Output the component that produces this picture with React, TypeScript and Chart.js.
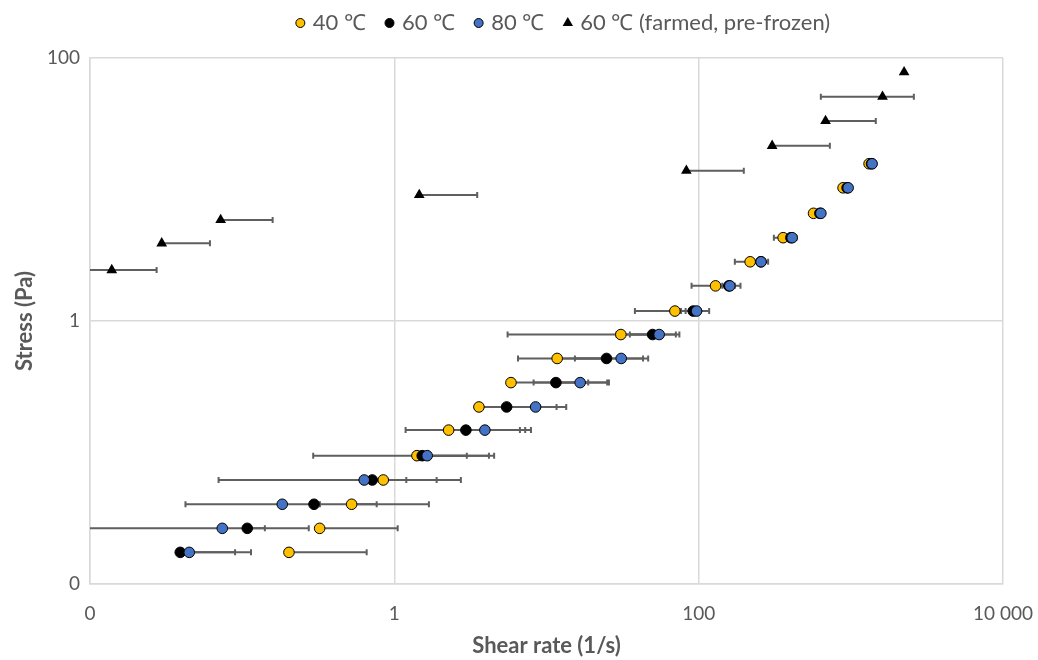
import React, { useEffect, useRef } from "react";
import { Chart, registerables } from "chart.js";

Chart.register(...registerables);

// ---------- data ----------
const seriesLabels = ["40 ℃", "60 ℃", "80 ℃", "60 ℃ (farmed, pre-frozen)"];

// stress levels (Pa) shared by the three temperature series
const stressLevels = [
  0.0174, 0.0265, 0.0404, 0.0618, 0.0946, 0.148, 0.222, 0.34, 0.519, 0.789,
  1.19, 1.85, 2.82, 4.3, 6.59, 10.3, 15.7,
];

// shear rate (1/s)
const rate40 = [
  0.203, 0.323, 0.524, 0.846, 1.408, 2.274, 3.597, 5.84, 11.75, 30.8, 69.8,
  129.1, 217.9, 359, 568.6, 889, 1318,
];
const rate60 = [
  0.0392, 0.108, 0.2966, 0.716, 1.525, 2.953, 5.47, 11.53, 24.8, 49.8, 92.1,
  157.9, 256.4, 403.6, 625.6, 945, 1368,
];
const rate80 = [
  0.0449, 0.074, 0.1834, 0.634, 1.644, 3.936, 8.48, 16.64, 30.97, 55.0, 96.9,
  160.3, 257, 411.6, 635.5, 960, 1380,
];

// shear-rate standard deviations (1/s)
const err40 = [
  0.455, 0.729, 1.163, 1.89, 3.12, 5.63, 4.5, 12.96, 12.5, 25.25, 31.7, 39.3,
  45, 47, 25, 40, 50,
];
const err60 = [
  0.0506, 0.166, 0.469, 1.181, 2.66, 4.29, 6.17, 14.2, 18.3, 21, 10, 15, 15,
  20, 25, 40, 50,
];
const err80 = [
  0.0694, 0.067, 0.141, 0.564, 1.351, 2.75, 5.0, 8.41, 15.6, 19.7, 20.3, 28,
  29, 28, 20, 30, 40,
];

// farmed, pre-frozen sample at 60 ℃
const stressFarmed = [2.44, 3.9, 5.86, 9.08, 13.9, 21.5, 33.2, 50.8, 77.9];
const rateFarmed = [0.0139, 0.0296, 0.0722, 1.458, 83.0, 304, 682, 1615, 2239];
const errFarmed = [0.0135, 0.0318, 0.0864, 2.047, 115, 424, 777, 980, 0];

// axes
const xTickValues = [0.01, 1, 100, 10000];
const xTickLabels = ["0", "1", "100", "10 000"];
const yTickValues = [0.01, 1, 100];
const yTickLabels = ["0", "1", "100"];
const xTitle = "Shear rate (1/s)";
const yTitle = "Stress (Pa)";

const colors = ["#FFC000", "#000000", "#4472C4", "#000000"];
const FONT = "Lato, 'Open Sans', sans-serif";
const TEXT = "#595959";

const errorsBySeries = [err40, err60, err80, errFarmed];

const errorBarPlugin = {
  id: "xErrorBars",
  beforeDatasetsDraw(chart: any) {
    const { ctx, chartArea, scales } = chart;
    const xs = scales.x;
    const ys = scales.y;
    ctx.save();
    ctx.beginPath();
    ctx.rect(
      chartArea.left,
      chartArea.top,
      chartArea.right - chartArea.left,
      chartArea.bottom - chartArea.top
    );
    ctx.clip();
    ctx.strokeStyle = "#5f5f5f";
    ctx.lineWidth = 2;
    const cap = 3;
    chart.data.datasets.forEach((ds: any, di: number) => {
      const errs = errorsBySeries[di];
      ds.data.forEach((p: any, i: number) => {
        const e = errs[i];
        if (!e) return;
        const py = ys.getPixelForValue(p.y);
        const px = xs.getPixelForValue(p.x);
        const hi = xs.getPixelForValue(p.x + e);
        ctx.beginPath();
        ctx.moveTo(px, py);
        ctx.lineTo(hi, py);
        ctx.moveTo(hi, py - cap);
        ctx.lineTo(hi, py + cap);
        const lowVal = p.x - e;
        if (lowVal > 0) {
          const lo = xs.getPixelForValue(lowVal);
          ctx.moveTo(px, py);
          ctx.lineTo(lo, py);
          ctx.moveTo(lo, py - cap);
          ctx.lineTo(lo, py + cap);
        }
        ctx.stroke();
      });
    });
    ctx.restore();
  },
};

const legendPlugin = {
  id: "topLegend",
  afterDraw(chart: any) {
    const ctx = chart.ctx;
    ctx.save();
    ctx.font = `22px ${FONT}`;
    ctx.textBaseline = "middle";
    ctx.fillStyle = TEXT;
    const y = 23;
    const r = 4.5;
    const markerToText = 8;
    const itemGap = 19;
    const widths = seriesLabels.map((l) => ctx.measureText(l).width);
    let total = 0;
    widths.forEach((w, i) => {
      total += 2 * r + markerToText + w + (i < widths.length - 1 ? itemGap : 0);
    });
    let x = 563 - total / 2;
    seriesLabels.forEach((label, i) => {
      const cx = x + r;
      ctx.beginPath();
      if (i === 3) {
        const tr = 6;
        ctx.moveTo(cx, y - tr);
        ctx.lineTo(cx + tr * 0.866, y + tr * 0.5);
        ctx.lineTo(cx - tr * 0.866, y + tr * 0.5);
        ctx.closePath();
        ctx.fillStyle = "#000";
        ctx.fill();
      } else {
        ctx.arc(cx, y, r, 0, Math.PI * 2);
        ctx.fillStyle = colors[i];
        ctx.fill();
        ctx.lineWidth = 1;
        ctx.strokeStyle = "#000";
        ctx.stroke();
      }
      ctx.fillStyle = TEXT;
      ctx.textAlign = "left";
      ctx.fillText(label, x + 2 * r + markerToText, y);
      x += 2 * r + markerToText + widths[i] + itemGap;
    });
    ctx.restore();
  },
};

function toPoints(xs: number[], ys: number[]) {
  return xs.map((x, i) => ({ x, y: ys[i] }));
}

export default function App() {
  const ref = useRef<HTMLCanvasElement | null>(null);

  useEffect(() => {
    if (!ref.current) return;
    const circle = (i: number, order: number) => ({
      label: seriesLabels[i],
      data: toPoints([rate40, rate60, rate80][i], stressLevels),
      pointStyle: "circle" as const,
      pointRadius: 5.3,
      pointBorderWidth: 1,
      pointBorderColor: "#000",
      pointBackgroundColor: colors[i],
      backgroundColor: colors[i],
      borderColor: "#000",
      showLine: false,
      order,
    });
    const chart = new Chart(ref.current, {
      type: "scatter",
      data: {
        datasets: [
          circle(0, 3),
          circle(1, 2),
          circle(2, 1),
          {
            label: seriesLabels[3],
            data: toPoints(rateFarmed, stressFarmed),
            pointStyle: "triangle",
            pointRadius: 6.2,
            pointBorderWidth: 0,
            pointBorderColor: "#000",
            pointBackgroundColor: "#000",
            backgroundColor: "#000",
            borderColor: "#000",
            showLine: false,
            order: 0,
          },
        ],
      },
      options: {
        responsive: false,
        animation: false,
        events: [],
        layout: { padding: { top: 58, right: 35, left: 0, bottom: 0 } },
        plugins: {
          legend: { display: false },
          tooltip: { enabled: false },
        },
        scales: {
          x: {
            type: "logarithmic",
            min: 0.01,
            max: 10000,
            afterBuildTicks: (scale: any) => {
              scale.ticks = xTickValues.map((v) => ({ value: v }));
            },
            afterFit: (scale: any) => {
              scale.height = 76;
              scale.paddingLeft = 0;
              scale.paddingRight = 0;
            },
            grid: { color: "#d9d9d9", lineWidth: 1.5, drawTicks: false },
            border: { display: true, color: "#d9d9d9", width: 1.5 },
            ticks: {
              padding: 18,
              maxRotation: 0,
              autoSkip: false,
              color: TEXT,
              font: { family: FONT, size: 19 },
              callback: (v: any) => xTickLabels[xTickValues.indexOf(Number(v))] ?? "",
            },
            title: {
              display: true,
              text: xTitle,
              color: TEXT,
              font: { family: FONT, size: 22, weight: "bold" },
              padding: { top: 1, bottom: 1 },
            },
          },
          y: {
            type: "logarithmic",
            min: 0.01,
            max: 100,
            afterBuildTicks: (scale: any) => {
              scale.ticks = yTickValues.map((v) => ({ value: v }));
            },
            afterFit: (scale: any) => {
              scale.width = 90;
              scale.paddingTop = 0;
              scale.paddingBottom = 0;
            },
            grid: { color: "#d9d9d9", lineWidth: 1.5, drawTicks: false },
            border: { display: true, color: "#d9d9d9", width: 1.5 },
            ticks: {
              padding: 10,
              autoSkip: false,
              color: TEXT,
              font: { family: FONT, size: 19 },
              callback: (v: any) => yTickLabels[yTickValues.indexOf(Number(v))] ?? "",
            },
            title: {
              display: true,
              text: yTitle,
              color: TEXT,
              font: { family: FONT, size: 22, weight: "bold" },
              padding: { top: 12, bottom: 0 },
            },
          },
        },
      },
      plugins: [errorBarPlugin, legendPlugin],
    });
    return () => chart.destroy();
  }, []);

  return (
    <div style={{ position: "absolute", left: 0, top: 0, width: 1038, height: 660, background: "#fff" }}>
      <canvas ref={ref} width={1038} height={660} />
    </div>
  );
}
